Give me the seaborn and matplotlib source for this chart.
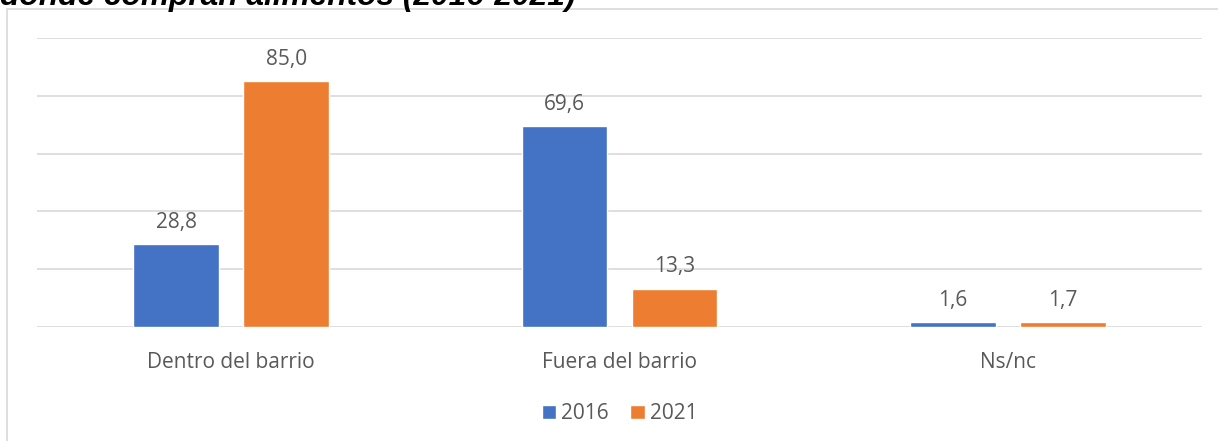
import pandas as pd
import matplotlib.pyplot as plt
import seaborn as sns
from matplotlib.patches import Rectangle

categories = ["Dentro del barrio", "Fuera del barrio", "Ns/nc"]
years = ["2016", "2021"]
values_2016 = [28.8, 69.6, 1.6]
values_2021 = [85.0, 13.3, 1.7]

df = pd.DataFrame({
    "lugar": categories * 2,
    "year": [years[0]] * 3 + [years[1]] * 3,
    "pct": values_2016 + values_2021,
})

sns.set_theme(style="white")
plt.rcParams["font.family"] = ["Open Sans", "DejaVu Sans"]

text_color = "#595959"
fig = plt.figure(figsize=(12.18, 4.41), dpi=100)
ax = fig.add_axes([37 / 1218, 1 - 327 / 441, 1165 / 1218, 289 / 441])

sns.barplot(data=df, x="lugar", y="pct", hue="year", order=categories,
            hue_order=years, palette=["#4472C4", "#ED7D31"], saturation=1,
            width=0.567, gap=0.22, ax=ax, zorder=3)

ax.set_ylim(0, 100)
ax.set_yticks(range(0, 101, 20))
ax.set_yticklabels([])
ax.yaxis.grid(True, color="#D9D9D9", linewidth=1.2, zorder=0)
ax.tick_params(axis="y", length=0)
ax.tick_params(axis="x", length=0, pad=18, labelsize=15, labelcolor=text_color)
for s in ax.spines.values():
    s.set_visible(False)
ax.set_xlabel("")
ax.set_ylabel("")

for cont in ax.containers:
    ax.bar_label(cont, labels=[f"{v:.1f}".replace(".", ",") for v in cont.datavalues],
                 padding=8, fontsize=15, color=text_color)

ax.legend(loc="upper center", bbox_to_anchor=(0.5, -0.235), ncol=2, frameon=False,
          fontsize=15, labelcolor=text_color, handlelength=0.7, handleheight=0.7,
          handletextpad=0.25, columnspacing=1.0, borderaxespad=0)

fig.patches.append(Rectangle((7 / 1218, -0.1), 1.2, 1 - 9 / 441 + 0.1,
                             transform=fig.transFigure, fill=False,
                             edgecolor="#D9D9D9", linewidth=1.2))

fig.text(0.0, 1 - 5 / 441, "donde compran alimentos (2016-2021)", ha="left",
         va="baseline", fontsize=22.8, fontweight="bold", fontstyle="italic",
         family="Liberation Sans", color="black")

fig.savefig("out.png", dpi=100)
